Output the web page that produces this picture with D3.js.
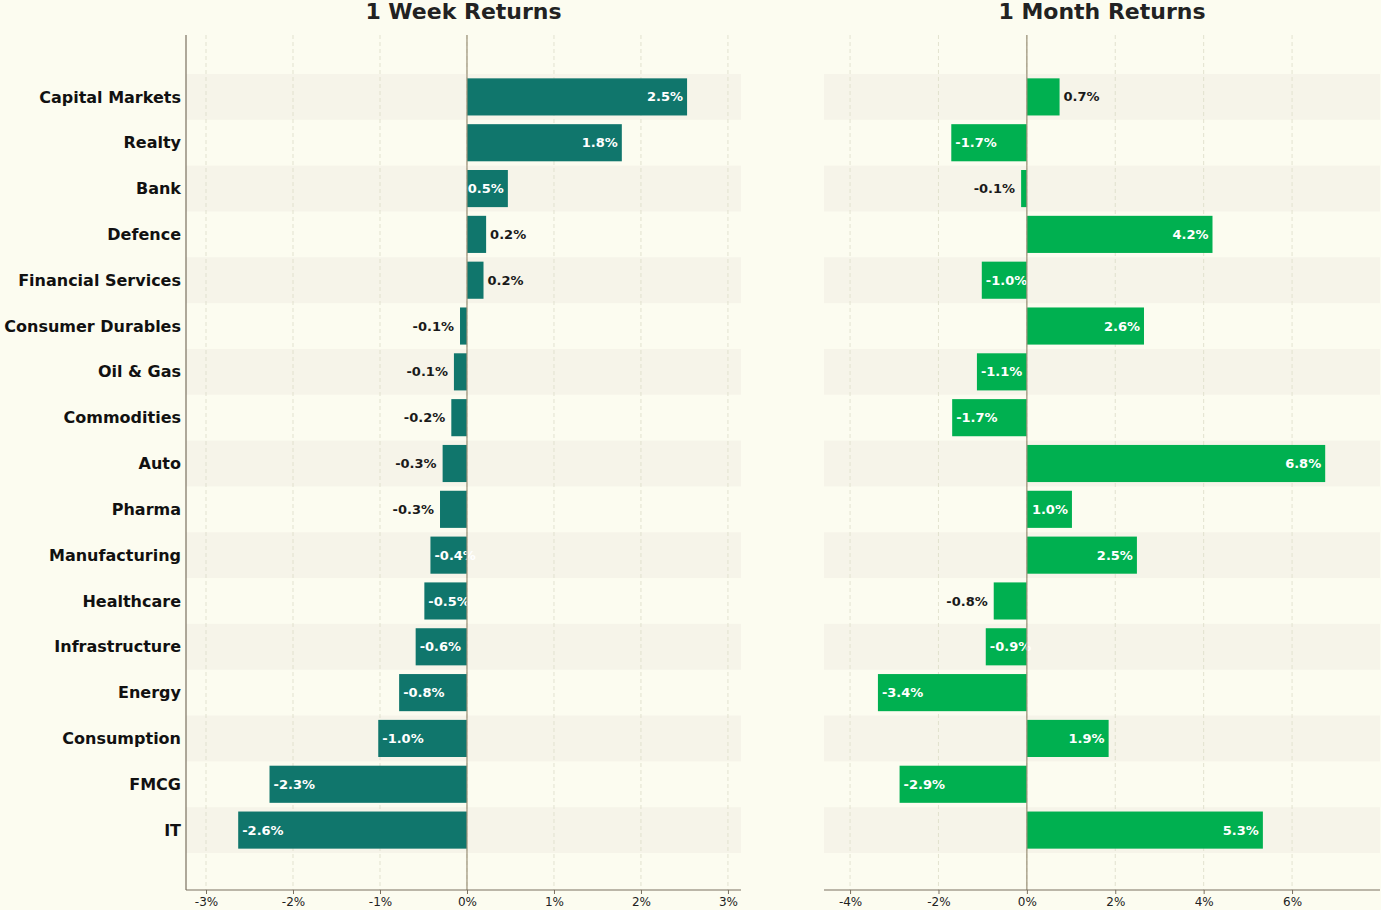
<!DOCTYPE html>
<html><head><meta charset="UTF-8">
<script src="https://cdn.jsdelivr.net/npm/d3@7"></script>
<style>body{margin:0;background:#fcfcf0;}svg{display:block;font-family:"DejaVu Sans",sans-serif;}</style>
</head><body>
<svg id="chart" width="1381" height="910"></svg>
<script>
const categories = ["Capital Markets","Realty","Bank","Defence","Financial Services","Consumer Durables","Oil & Gas","Commodities","Auto","Pharma","Manufacturing","Healthcare","Infrastructure","Energy","Consumption","FMCG","IT"];
const weekReturns = [2.53,1.78,0.47,0.22,0.19,-0.08,-0.15,-0.18,-0.28,-0.31,-0.42,-0.49,-0.59,-0.78,-1.02,-2.27,-2.63];
const monthReturns = [0.74,-1.71,-0.13,4.2,-1.02,2.65,-1.13,-1.69,6.75,1.02,2.49,-0.75,-0.93,-3.37,1.85,-2.88,5.34];
const weekTicks = [-3,-2,-1,0,1,2,3];
const monthTicks = [-4,-2,0,2,4,6];

const svg = d3.select("#chart");
const plotTop = 35, plotBottom = 890;
const y = d3.scaleBand().domain(categories).range([74, 853]).paddingInner(0.19).paddingOuter(0.095);
const step = y.step();

function panel(title, vals, ticks, x0, x1, domain, color) {
  const x = d3.scaleLinear().domain(domain).range([x0, x1]);
  const g = svg.append("g");
  // stripes
  categories.forEach((c, i) => {
    if (i % 2 === 0) g.append("rect").attr("x", x0).attr("width", x1 - x0)
      .attr("y", y(c) + y.bandwidth() / 2 - step / 2).attr("height", step).attr("fill", "#f6f4e9");
  });
  // grid
  ticks.forEach(t => g.append("line").attr("x1", x(t)).attr("x2", x(t)).attr("y1", plotTop).attr("y2", plotBottom)
    .attr("stroke", "#dcdcc8").attr("stroke-dasharray", "4,3").attr("stroke-width", 0.8));
  const thr = 0.12 * d3.max(vals, v => Math.abs(v));
  categories.forEach((c, i) => {
    const v = vals[i];
    g.append("rect").attr("x", Math.min(x(0), x(v))).attr("width", Math.abs(x(v) - x(0)))
      .attr("y", y(c)).attr("height", y.bandwidth()).attr("fill", color);
    const inside = Math.abs(v) > thr;
    let tx, anchor;
    if (inside) { tx = v > 0 ? x(v) - 4 : x(v) + 4; anchor = v > 0 ? "end" : "start"; }
    else { tx = v > 0 ? x(v) + 4 : x(v) - 6; anchor = v > 0 ? "start" : "end"; }
    g.append("text").attr("x", tx).attr("y", y(c) + y.bandwidth() / 2).attr("dy", "0.35em")
      .attr("text-anchor", anchor).attr("font-size", 13).attr("font-weight", "bold")
      .attr("fill", inside ? "#fff" : "#1a1a1a").text(v.toFixed(1) + "%");
  });
  g.append("line").attr("x1", x(0)).attr("x2", x(0)).attr("y1", plotTop).attr("y2", plotBottom)
    .attr("stroke", "#9a9078").attr("stroke-width", 1.2);
  const ax = g.append("g").attr("transform", `translate(0,${plotBottom})`)
    .call(d3.axisBottom(x).tickValues(ticks).tickFormat(d => d + "%").tickSize(4).tickSizeOuter(0));
  ax.select(".domain").attr("stroke", "#7a7060").attr("stroke-width", 1.2).attr("d", `M${x0},0H${x1}`);
  ax.selectAll(".tick line").attr("stroke", "#7a7060");
  ax.selectAll("text").attr("font-size", 12).attr("fill", "#222").attr("font-family", "DejaVu Sans");
  g.append("text").attr("x", (x0 + x1) / 2).attr("y", 19).attr("text-anchor", "middle")
    .attr("font-size", 22).attr("font-weight", "bold").attr("fill", "#222").text(title);
  return x;
}

panel("1 Week Returns", weekReturns, weekTicks, 186, 741, [-3.23, 3.15], "#10766c");
panel("1 Month Returns", monthReturns, monthTicks, 824, 1380, [-4.59, 7.99], "#00b050");

svg.append("line").attr("x1", 186).attr("x2", 186).attr("y1", plotTop).attr("y2", plotBottom)
  .attr("stroke", "#7a7060").attr("stroke-width", 1.2);
categories.forEach(c => svg.append("text").attr("x", 181).attr("y", y(c) + y.bandwidth() / 2).attr("dy", "0.35em")
  .attr("text-anchor", "end").attr("font-size", 16).attr("font-weight", "bold").attr("fill", "#111").text(c));
</script>
</body></html>
